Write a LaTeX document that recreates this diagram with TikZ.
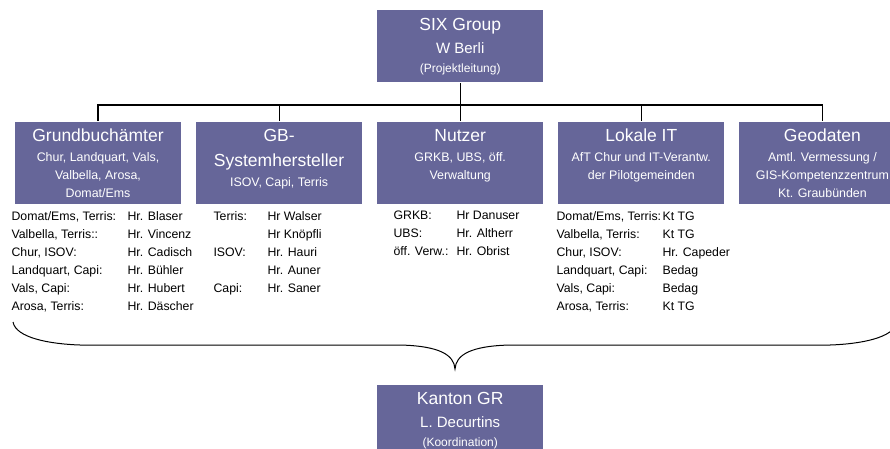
\documentclass[tikz,border=0pt]{standalone}
\usepackage{fontspec}
\setmainfont{Liberation Sans}
\usetikzlibrary{positioning}
\definecolor{unitcol}{RGB}{102,102,153}
\newcommand{\unittitle}{\fontsize{17.5}{24.5}\selectfont}
\newcommand{\unitsub}{\fontsize{12.4}{18}\selectfont}
\newcommand{\unitname}{\fontsize{15}{23}\selectfont}
\newcommand{\unitrole}{\fontsize{12}{19}\selectfont}
\newcommand{\listfont}{\fontsize{12.3}{18}\selectfont}

\begin{document}
\begin{tikzpicture}[x=1pt,y=-1pt,line width=1.1pt,
  unit/.style={fill=unitcol,text=white,inner sep=0pt,
    execute at begin node={\begin{minipage}[t][#1][t]{166pt}\centering},
    execute at end node={\end{minipage}}},
  unit/.default=82pt,
  members/.style={inner sep=0pt,anchor=base west,font=\listfont}]
\useasboundingbox (0,0) rectangle (890,448);

% departments
\node[unit,anchor=north] (gb) at (98,121) {\unittitle\rule{0pt}{20pt}Grundbuchämter\par\vspace{2pt}
  \unitsub Chur, Landquart, Vals,\\Valbella, Arosa,\\Domat/Ems\par};
\node[unit,right=14pt of gb] (gbsys) {\unittitle\rule{0pt}{20pt}GB-\\Systemhersteller\par\vspace{2pt}
  \unitsub ISOV, Capi, Terris\par};
\node[unit,right=14pt of gbsys] (nutzer) {\unittitle\rule{0pt}{20pt}Nutzer\par\vspace{2pt}
  \unitsub GRKB, UBS, öff.\\Verwaltung\par};
\node[unit,right=14pt of nutzer] (lokal) {\unittitle\rule{0pt}{20pt}Lokale IT\par\vspace{2pt}
  \unitsub AfT Chur und IT-Verantw.\\der Pilotgemeinden\par};
\node[unit,right=14pt of lokal] (geo) {\unittitle\rule{0pt}{20pt}Geodaten\par\vspace{2pt}
  \unitsub Amtl. Vermessung /\\GIS-Kompetenzzentrum\\Kt. Graubünden\par};

% lead and coordination
\node[unit=72pt,above=38pt of nutzer] (six) {\unittitle\rule{0pt}{20pt}SIX Group\par
  {\unitname W Berli\par}{\unitrole (Projektleitung)\par}};
\node[unit=72pt,below=180pt of nutzer] (kanton) {\unittitle\rule{0pt}{20pt}Kanton GR\par
  {\unitname L. Decurtins\par}{\unitrole (Koordination)\par}};

% tree
\path (six.south) -- coordinate[pos=0.58] (bar) (nutzer.north);
\draw (six.south) -- (nutzer.north);
\draw (gb.north) |- (bar) -| (geo.north);
\draw (gbsys.north) -- (gbsys.north |- bar);
\draw (lokal.north) -- (lokal.north |- bar);

% members
\node[members] (gb-orte) at (11,220) {\begin{tabular}[t]{@{}l@{}}Domat/Ems, Terris:\\Valbella, Terris::\\Chur, ISOV:\\Landquart, Capi:\\Vals, Capi:\\Arosa, Terris:\end{tabular}};
\node[members] (gb-leute) at (127,220) {\begin{tabular}[t]{@{}l@{}}Hr. Blaser\\Hr. Vincenz\\Hr. Cadisch\\Hr. Bühler\\Hr. Hubert\\Hr. Däscher\end{tabular}};
\node[members] (gbsys-orte) at (213,220) {\begin{tabular}[t]{@{}l@{}}Terris:\\ \\ISOV:\\ \\Capi:\end{tabular}};
\node[members] (gbsys-leute) at (267,220) {\begin{tabular}[t]{@{}l@{}}Hr Walser\\Hr Knöpfli\\Hr. Hauri\\Hr. Auner\\Hr. Saner\end{tabular}};
\node[members] (nutzer-orte) at (393,219) {\begin{tabular}[t]{@{}l@{}}GRKB:\\UBS:\\öff. Verw.:\end{tabular}};
\node[members] (nutzer-leute) at (456,219) {\begin{tabular}[t]{@{}l@{}}Hr Danuser\\Hr. Altherr\\Hr. Obrist\end{tabular}};
\node[members] (lokal-orte) at (556,220) {\begin{tabular}[t]{@{}l@{}}Domat/Ems, Terris:\\Valbella, Terris:\\Chur, ISOV:\\Landquart, Capi:\\Vals, Capi:\\Arosa, Terris:\end{tabular}};
\node[members] (lokal-leute) at (662,220) {\begin{tabular}[t]{@{}l@{}}Kt TG\\Kt TG\\Hr. Capeder\\Bedag\\Bedag\\Kt TG\end{tabular}};

% brace
\coordinate (tip) at (455,369);
\draw[line width=1pt] (13,322) .. controls (16,338) and (50,344) .. (80,345) -- (400,345)
  .. controls (440,346) and (454,355) .. (tip)
  .. controls (456,355) and (470,346) .. (510,345) -- (830,345)
  .. controls (860,344) and (894,338) .. (897,322);
\end{tikzpicture}
\end{document}
